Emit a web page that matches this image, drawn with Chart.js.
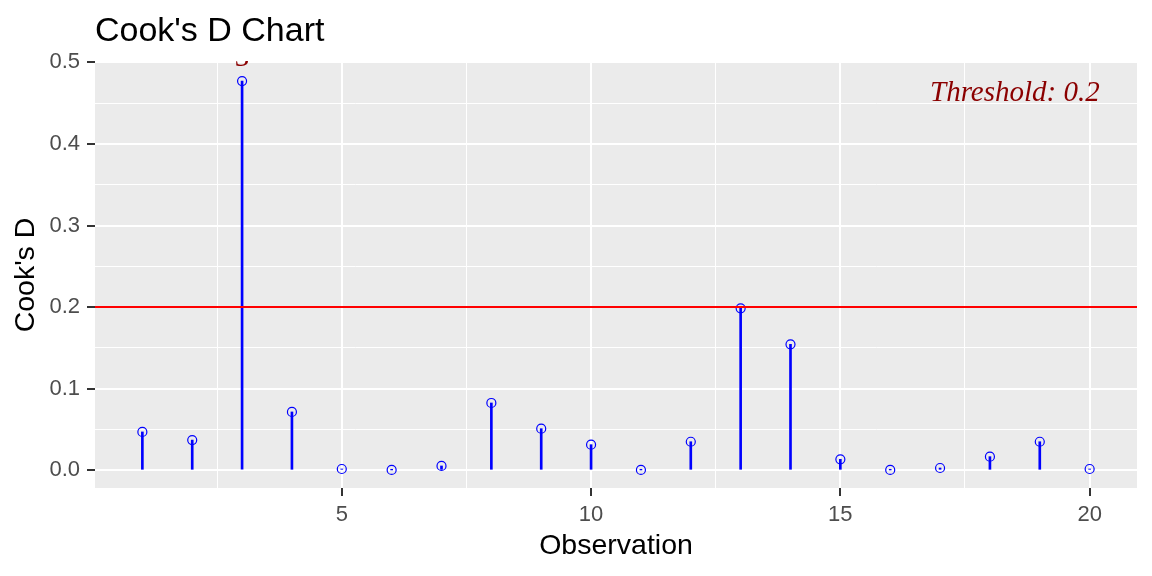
<!DOCTYPE html>
<html>
<head>
<title>Cook's D Chart</title>
<script src="https://cdn.jsdelivr.net/npm/chart.js"></script>
<style>
  body { margin: 0; background: #fff; }
</style>
</head>
<body>
<canvas id="myChart" width="1152" height="576"></canvas>
<script>
// values
const observations = [1, 2, 3, 4, 5, 6, 7, 8, 9, 10, 11, 12, 13, 14, 15, 16, 17, 18, 19, 20];
const cooksD = [0.047, 0.037, 0.477, 0.0715, 0.0016, 0.0004, 0.0053, 0.0825, 0.051, 0.0314,
                0.0004, 0.035, 0.1985, 0.1544, 0.0135, 0.0004, 0.0028, 0.0167, 0.035, 0.0016];
const threshold = 0.2;
const xTicks = [2.5, 5, 7.5, 10, 12.5, 15, 17.5, 20];
const yTicks = [0, 0.05, 0.1, 0.15, 0.2, 0.25, 0.3, 0.35, 0.4, 0.45, 0.5];
const xMin = 0.05, xMax = 20.95;
const yMin = -0.0217, yMax = 0.5004;
const outlierLabel = { x: 3, y: 0.495, text: '3' };
const thresholdLabel = { x: 18.5, y: 0.4625, text: 'Threshold: 0.2' };

const stems = observations.map((o, i) => ({ x: o, y: cooksD[i] }));

const panelBg = {
    id: 'panelBg',
    beforeDraw(chart) {
        const { ctx, chartArea: a } = chart;
        ctx.save();
        ctx.fillStyle = '#EBEBEB';
        ctx.fillRect(a.left, a.top, a.right - a.left, a.bottom - a.top);
        ctx.restore();
    }
};

const annotations = {
    id: 'annotations',
    afterDraw(chart) {
        const { ctx, chartArea: a } = chart;
        const xs = chart.scales.x, ys = chart.scales.y;
        ctx.save();
        // title
        ctx.fillStyle = '#000';
        ctx.font = '34px "Liberation Sans", Arial, sans-serif';
        ctx.textAlign = 'left';
        ctx.textBaseline = 'alphabetic';
        ctx.fillText("Cook's D Chart", a.left, 41);

        // threshold text
        ctx.fillStyle = '#8B0000';
        ctx.font = 'italic 29px "Liberation Serif", "Times New Roman", serif';
        ctx.textAlign = 'center';
        ctx.textBaseline = 'middle';
        ctx.fillText(thresholdLabel.text, xs.getPixelForValue(thresholdLabel.x), ys.getPixelForValue(thresholdLabel.y));

        // outlier label, clipped at the panel top
        ctx.beginPath();
        ctx.rect(a.left, a.top - 1, a.right - a.left, a.bottom - a.top + 1);
        ctx.clip();
        ctx.font = '29px "Liberation Serif", "Times New Roman", serif';
        ctx.textBaseline = 'alphabetic';
        ctx.fillText(outlierLabel.text, xs.getPixelForValue(outlierLabel.x), ys.getPixelForValue(outlierLabel.y));
        ctx.restore();
    }
};

const ctx = document.getElementById('myChart').getContext('2d');
const myChart = new Chart(ctx, {
    data: {
        datasets: [
            {
                type: 'line',
                data: [{ x: xMin, y: threshold }, { x: xMax, y: threshold }],
                borderColor: '#FF0000',
                borderWidth: 2,
                pointRadius: 0,
                order: 0
            },
            {
                type: 'scatter',
                data: stems,
                borderColor: '#0000FF',
                backgroundColor: 'rgba(0,0,0,0)',
                borderWidth: 1.2,
                pointRadius: 4.5,
                order: 1
            },
            {
                type: 'bar',
                data: stems,
                backgroundColor: '#0000FF',
                barThickness: 2,
                order: 2
            }
        ]
    },
    options: {
        responsive: false,
        animation: false,
        layout: { padding: { left: 0, top: 62, right: 15, bottom: 0 } },
        plugins: {
            legend: { display: false },
            tooltip: { enabled: false },
            title: { display: false }
        },
        scales: {
            x: {
                type: 'linear',
                min: xMin,
                max: xMax,
                offset: false,
                border: { display: false },
                afterBuildTicks: (s) => { s.ticks = xTicks.map(v => ({ value: v })); },
                afterFit: (s) => { s.height = 88; },
                grid: {
                    offset: false,
                    color: '#FFFFFF',
                    lineWidth: (c) => (c.tick && c.tick.value % 5 === 0 ? 2 : 1),
                    tickColor: (c) => (c.tick && c.tick.value % 5 === 0 ? '#333333' : 'rgba(0,0,0,0)'),
                    tickWidth: 2,
                    tickLength: 8
                },
                ticks: {
                    color: '#4D4D4D',
                    font: { size: 22, family: '"Liberation Sans", Arial, sans-serif' },
                    padding: 6,
                    maxRotation: 0,
                    autoSkip: false,
                    callback: (v) => (v % 5 === 0 ? String(v) : '')
                },
                title: {
                    display: true,
                    text: 'Observation',
                    color: '#000',
                    font: { size: 28.5, family: '"Liberation Sans", Arial, sans-serif' },
                    padding: { top: 0, bottom: 13 }
                }
            },
            y: {
                type: 'linear',
                min: yMin,
                max: yMax,
                border: { display: false },
                afterBuildTicks: (s) => { s.ticks = yTicks.map(v => ({ value: v })); },
                afterFit: (s) => { s.width = 95; },
                grid: {
                    offset: false,
                    color: '#FFFFFF',
                    lineWidth: (c) => (c.tick && Math.round(c.tick.value * 100) % 10 === 0 ? 2 : 1),
                    tickColor: (c) => (c.tick && Math.round(c.tick.value * 100) % 10 === 0 ? '#333333' : 'rgba(0,0,0,0)'),
                    tickWidth: 2,
                    tickLength: 8
                },
                ticks: {
                    color: '#4D4D4D',
                    font: { size: 22, family: '"Liberation Sans", Arial, sans-serif' },
                    padding: 7,
                    autoSkip: false,
                    callback: (v) => (Math.round(v * 100) % 10 === 0 ? v.toFixed(1) : '')
                },
                title: {
                    display: true,
                    text: "Cook's D",
                    color: '#000',
                    font: { size: 28.5, family: '"Liberation Sans", Arial, sans-serif' },
                    padding: { top: 9, bottom: 0 }
                }
            }
        }
    },
    plugins: [panelBg, annotations]
});
</script>
</body>
</html>
